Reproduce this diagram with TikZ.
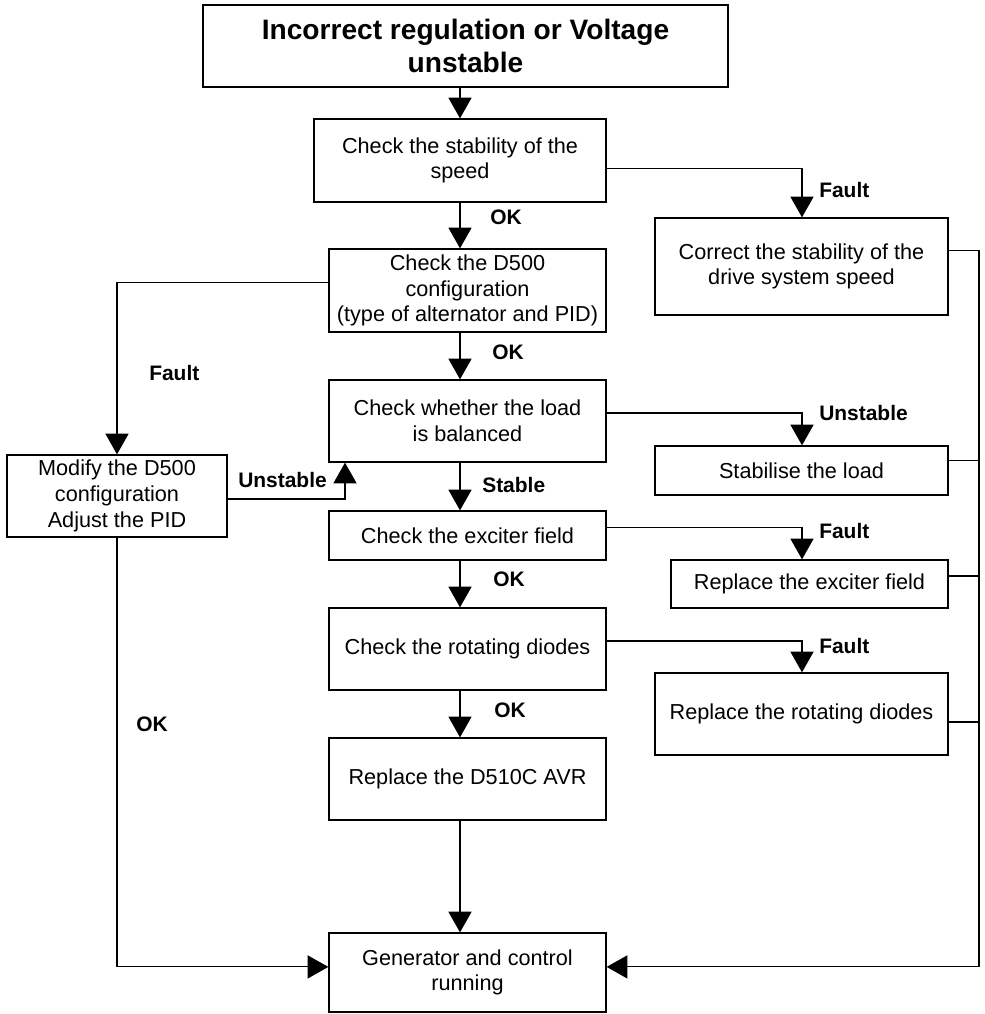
\documentclass[tikz,border=0pt]{standalone}
\usepackage{fontspec}
\setmainfont{Liberation Sans}
\usetikzlibrary{arrows.meta}
\tikzset{
  box/.style={draw, line width=0.9pt, align=center, inner sep=0pt,
    font=\fontsize{15.4}{18.3}\selectfont},
  titlebox/.style={draw, line width=1.8pt, align=center, inner sep=0pt,
    font=\fontsize{20}{23.2}\selectfont\bfseries},
  lbl/.style={anchor=west, inner sep=0pt, font=\fontsize{14.9}{17}\selectfont\bfseries},
  link/.style={line width=0.8pt, -{Triangle[length=0.52cm,width=0.58cm]}},
  wire/.style={line width=0.8pt}
}

\begin{document}
\begin{tikzpicture}[x=0.025cm, y=-0.025cm]
    \useasboundingbox (0,0) rectangle (985,1014);

    % Main column of checks
    \node[titlebox, minimum width=13.125cm, minimum height=2.05cm] (title) at (465.5,46) {Incorrect regulation or Voltage\\unstable};
    \node[box, minimum width=7.3cm, minimum height=2.075cm] (speed) at (460,160.5) {Check the stability of the\\speed};
    \node[box, minimum width=6.925cm, minimum height=2.075cm] (config) at (467.5,290.5) {Check the D500\\configuration\\(type of alternator and PID)};
    \node[box, minimum width=6.925cm, minimum height=2.05cm] (load) at (467.5,421) {Check whether the load\\is balanced};
    \node[box, minimum width=6.925cm, minimum height=1.225cm] (exciter) at (467.5,535.5) {Check the exciter field};
    \node[box, minimum width=6.925cm, minimum height=2.05cm] (diodes) at (467.5,649) {Check the rotating diodes};
    \node[box, minimum width=6.925cm, minimum height=2.05cm] (avr) at (467.5,779) {Replace the D510C AVR};
    \node[box, minimum width=6.925cm, minimum height=1.975cm] (running) at (467.5,972.5) {Generator and control\\running};

    % Repairs on the right
    \node[box, minimum width=7.325cm, minimum height=2.425cm] (fixspeed) at (801.5,266.5) {Correct the stability of the\\drive system speed};
    \node[box, minimum width=7.325cm, minimum height=1.225cm] (fixload) at (801.5,470.5) {Stabilise the load};
    \node[box, minimum width=6.925cm, minimum height=1.2cm] (fixexciter) at (809.5,584) {Replace the exciter field};
    \node[box, minimum width=7.325cm, minimum height=2.05cm] (fixdiodes) at (801.5,714) {Replace the rotating diodes};

    % Reconfiguration on the left
    \node[box, minimum width=5.5cm, minimum height=2.05cm] (modify) at (117,496) {Modify the D500\\configuration\\Adjust the PID};

    % Guide lines for the connectors
    \coordinate (axis) at (460,0);
    \coordinate (faultx) at (802,0);
    \coordinate (backx) at (345,0);
    \coordinate (bus) at (979,0);
    \coordinate (inL) at ([yshift=0.14cm]running.west);
    \coordinate (inR) at ([yshift=0.14cm]running.east);

    % Downward chain
    \draw[link] (title.south -| axis) -- (speed.north -| axis);
    \draw[link] (speed.south -| axis) -- (config.north -| axis);
    \foreach \a/\b in {config/load, load/exciter, exciter/diodes, diodes/avr, avr/running}
        \draw[link] (\a.south -| axis) -- (\b.north -| axis);

    % Branches to the repairs
    \draw[link] ([yshift=-0.21cm]speed.east) -| (faultx |- fixspeed.north);
    \draw[link] ([yshift=0.2cm]load.east) -| (faultx |- fixload.north);
    \draw[link] ([yshift=0.21cm]exciter.east) -| (faultx |- fixexciter.north);
    \draw[link] ([yshift=0.2cm]diodes.east) -| (faultx |- fixdiodes.north);

    % Return bus on the right
    \draw[link] ([yshift=0.39cm]fixspeed.east) -| (bus |- inR) -- (inR);
    \foreach \n/\s in {fixload/0.24cm, fixexciter/0.2cm, fixdiodes/-0.2cm}
        \draw[wire] ([yshift=\s]\n.east) -- ([yshift=\s]\n.east -| bus);

    % Left loop
    \draw[link] ([yshift=0.19cm]config.west) -| (modify.north);
    \draw[link] ([yshift=-0.075cm]modify.east) -| (backx |- load.south);
    \draw[link] (modify.south) |- (inL);

    % Labels
    \node[lbl] (ok1) at (490,217) {OK};
    \node[lbl] (ok2) at (492,352) {OK};
    \node[lbl] (stable) at (482,485) {Stable};
    \node[lbl] (ok3) at (493,579) {OK};
    \node[lbl] (ok4) at (494,710) {OK};
    \node[lbl] (fault1) at (819,190) {Fault};
    \node[lbl] (unstable1) at (819,413) {Unstable};
    \node[lbl] (fault2) at (819,531) {Fault};
    \node[lbl] (fault3) at (819,646) {Fault};
    \node[lbl] (fault4) at (149,373) {Fault};
    \node[lbl] (unstable2) at (238,480) {Unstable};
    \node[lbl] (ok5) at (136,724) {OK};
\end{tikzpicture}
\end{document}
